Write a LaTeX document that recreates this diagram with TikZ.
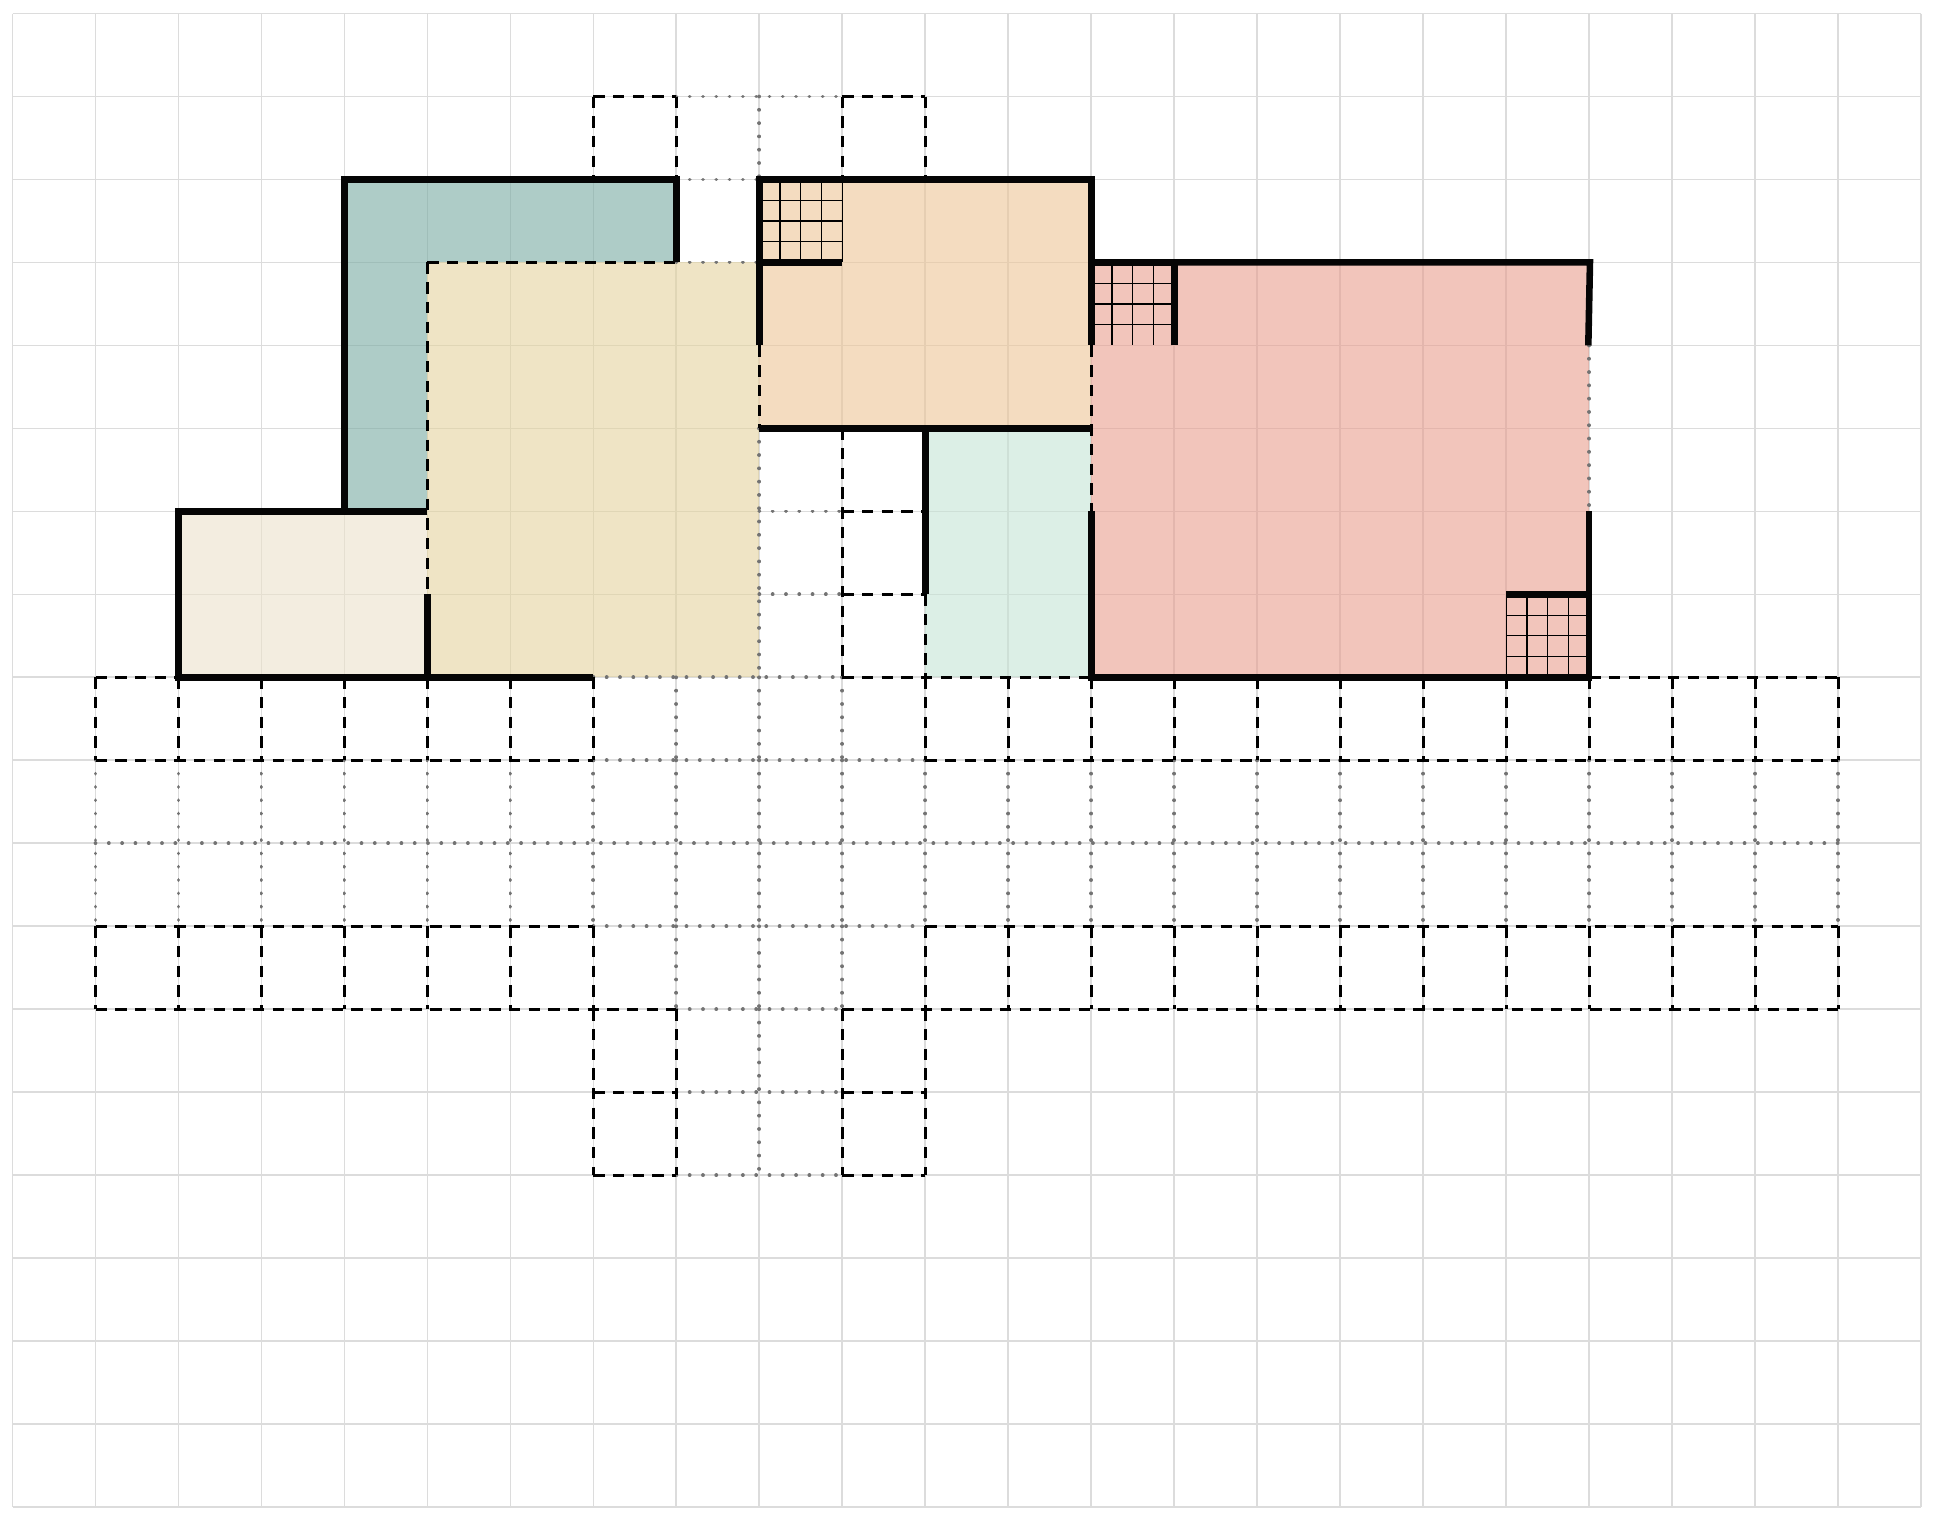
\documentclass[tikz,border=0pt]{standalone}
\definecolor{tealfill}{HTML}{78AAA2}
\definecolor{creamfill}{HTML}{EBE1CB}
\definecolor{yellowfill}{HTML}{E4D29E}
\definecolor{orangefill}{HTML}{EDC596}
\definecolor{greenfill}{HTML}{C5E4D5}
\definecolor{pinkfill}{HTML}{E99E8E}
\definecolor{gridgray}{HTML}{DCDCDC}
\tikzset{
  gridline/.style={line width=0.6pt,gridgray},
  roomfill/.style={fill opacity=0.6},
  thickwall/.style={line width=2.25pt,black!98,line cap=butt,line join=miter},
  dashline/.style={line width=1.05pt,black,dash pattern=on 3.9pt off 2.85pt},
  dotline/.style={line width=1.3pt,black!55,line cap=round,dash pattern=on 0.01pt off 4.55pt},
  finegrid/.style={line width=0.42pt,black}
}
\begin{document}
\begin{tikzpicture}[x=1cm,y=-1cm]
\useasboundingbox (-0.151,-0.163) rectangle (23.144,18.167);
% background grid
\foreach \c in {0,...,23} \draw[gridline] (\c,0) -- (\c,18);
\foreach \r in {0,...,18} \draw[gridline] (0,\r) -- (23,\r);
% fills
\fill[tealfill,roomfill] (4,2) -- (8,2) -- (8,3) -- (5,3) -- (5,6) -- (4,6) -- cycle;
\fill[creamfill,roomfill] (2,6) rectangle (5,8);
\fill[yellowfill,roomfill] (5,3) rectangle (9,8);
\fill[orangefill,roomfill] (9,2) rectangle (13,5);
\fill[greenfill,roomfill] (11,5) rectangle (13,8);
\fill[pinkfill,roomfill] (13,3) rectangle (19,8);
% dotted lines
\foreach \c in {1,...,22} \draw[dotline] (\c,9) -- (\c,11);
\foreach \c in {8,9,10} \draw[dotline] (\c,8) -- (\c,9) (\c,11) -- (\c,12);
\draw[dotline] (1,10) -- (22,10);
\foreach \r in {9,11} \draw[dotline] (7,\r) -- (11,\r);
\draw[dotline] (7,8) -- (10,8);
\foreach \r in {1,12,13,14} \draw[dotline] (8,\r) -- (10,\r);
\draw[dotline] (8,2) -- (9,2) (8,3) -- (9,3);
\draw[dotline] (9,1) -- (9,2) (9,12) -- (9,14);
\draw[dotline] (9,5) -- (9,8);
\foreach \r in {6,7} \draw[dotline] (9,\r) -- (10,\r);
\draw[dotline] (19,4) -- (19,6);
% dashed lines
\foreach \r in {8} { \draw[dashline] (1,\r) -- (2,\r); \draw[dashline] (10,\r) -- (13,\r); \draw[dashline] (19,\r) -- (22,\r); }
\foreach \r in {9,11} { \draw[dashline] (1,\r) -- (7,\r); \draw[dashline] (11,\r) -- (22,\r); }
\draw[dashline] (1,12) -- (8,12);
\draw[dashline] (10,12) -- (22,12);
\foreach \c in {1,...,7,11,12,...,22} { \draw[dashline] (\c,8) -- (\c,9); \draw[dashline] (\c,11) -- (\c,12); }
\foreach \c in {7,8,10,11} \draw[dashline] (\c,12) -- (\c,14);
\foreach \r in {13,14} { \draw[dashline] (7,\r) -- (8,\r); \draw[dashline] (10,\r) -- (11,\r); }
\draw[dashline] (7,1) -- (8,1);
\draw[dashline] (10,1) -- (11,1);
\foreach \c in {7,8,10,11} \draw[dashline] (\c,1) -- (\c,2);
\draw[dashline] (5,3) -- (8,3);
\draw[dashline] (5,3) -- (5,7);
\draw[dashline] (9,4) -- (9,5);
\draw[dashline] (10,5) -- (10,8);
\foreach \r in {6,7} \draw[dashline] (10,\r) -- (11,\r);
\draw[dashline] (11,7) -- (11,8);
\draw[dashline] (13,4) -- (13,6);
% fine 4x4 grids
\foreach \gx/\gy in {9/2,13/3,18/7} {
  \foreach \k in {1,2,3} {
    \draw[finegrid] (\gx+\k/4,\gy) -- (\gx+\k/4,\gy+1);
    \draw[finegrid] (\gx,\gy+\k/4) -- (\gx+1,\gy+\k/4);
  }
}
\draw[finegrid] (18,7) -- (18,8);
\draw[finegrid] (10,2) -- (10,3);
% thick walls
\draw[thickwall] (4,6) -- (4,2) -- (8,2) -- (8,3);
\draw[thickwall] (5,6) -- (2,6) -- (2,8) -- (7,8);
\draw[thickwall] (5,7) -- (5,8);
\draw[thickwall] (9,4) -- (9,2) -- (13,2) -- (13,4);
\draw[thickwall] (9,3) -- (10,3);
\draw[thickwall] (9,5) -- (13,5);
\draw[thickwall] (11,5) -- (11,7);
\draw[thickwall] (14,4) -- (14,3) -- (13,3);
\draw[thickwall] (14,3) -- (19.01,3) -- (18.99,4);
\draw[thickwall] (19,6) -- (19,8) -- (13,8) -- (13,6);
\draw[thickwall] (18,7) -- (19,7);
\end{tikzpicture}
\end{document}
